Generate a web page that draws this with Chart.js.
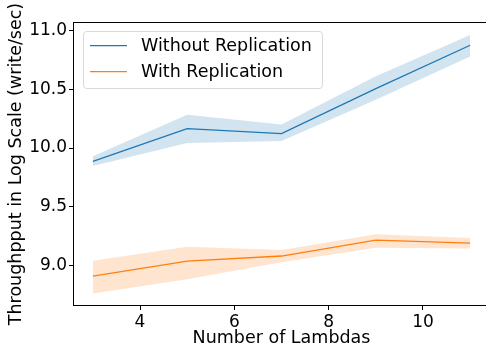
<!DOCTYPE html>
<html>
<head>
<meta charset="utf-8">
<script src="https://cdn.jsdelivr.net/npm/chart.js@4"></script>
<style>
  html, body { margin: 0; padding: 0; background: #fff; overflow: hidden; }
  #wrap { width: 490px; height: 352px; }
</style>
</head>
<body>
<div id="wrap"><canvas id="myChart" width="490" height="352"></canvas></div>
<script>
'use strict';

// values
let lambdas = [3, 5, 7, 9, 11];
let noRepMean = [9.887, 10.165, 10.122, 10.505, 10.873];
let noRepUpper = [9.93, 10.283, 10.2, 10.61, 10.96];
let noRepLower = [9.847, 10.042, 10.06, 10.41, 10.777];
let repMean = [8.912, 9.04, 9.083, 9.218, 9.193];
let repUpper = [9.042, 9.162, 9.134, 9.268, 9.235];
let repLower = [8.765, 8.885, 9.03, 9.153, 9.147];

let xTicks = [4, 6, 8, 10];
let yTicks = [9.0, 9.5, 10.0, 10.5, 11.0];

let seriesNames = ['Without Replication', 'With Replication'];
let blue = '#1f77b4';
let orange = '#ff7f0e';

let font = 'DejaVu Sans';

function toPoints(values) {
  return lambdas.map((x, i) => ({ x: x, y: values[i] }));
}

function band(values, color, fill) {
  return {
    data: toPoints(values),
    borderWidth: 0,
    borderColor: 'rgba(0,0,0,0)',
    backgroundColor: color,
    pointRadius: 0,
    fill: fill,
    tension: 0
  };
}

function line(label, values, color) {
  return {
    label: label,
    data: toPoints(values),
    borderColor: color,
    borderWidth: 1.3,
    pointRadius: 0,
    fill: false,
    tension: 0
  };
}

// frame round the plot area plus the boxed legend
let framePlugin = {
  id: 'frame',
  afterDraw(chart) {
    let ctx = chart.ctx;
    let a = chart.chartArea;
    ctx.save();
    ctx.strokeStyle = '#000';
    ctx.lineWidth = 1;
    ctx.strokeRect(Math.round(a.left) - 0.5, Math.round(a.top) - 0.5,
      Math.round(a.right - a.left) + 1, Math.round(a.bottom - a.top) + 1);

    // legend box
    let bx = 83.5, by = 31.5, bw = 239, bh = 57, r = 3;
    ctx.beginPath();
    ctx.moveTo(bx + r, by);
    ctx.arcTo(bx + bw, by, bx + bw, by + bh, r);
    ctx.arcTo(bx + bw, by + bh, bx, by + bh, r);
    ctx.arcTo(bx, by + bh, bx, by, r);
    ctx.arcTo(bx, by, bx + bw, by, r);
    ctx.closePath();
    ctx.fillStyle = 'rgba(255,255,255,0.8)';
    ctx.fill();
    ctx.strokeStyle = '#d9d9d9';
    ctx.stroke();

    let colors = [blue, orange];
    let rows = [45.7, 71.7];
    ctx.font = '17.5px "' + font + '"';
    ctx.textBaseline = 'middle';
    ctx.textAlign = 'left';
    for (let i = 0; i < seriesNames.length; i++) {
      ctx.strokeStyle = colors[i];
      ctx.lineWidth = 1.3;
      ctx.beginPath();
      ctx.moveTo(90, rows[i]);
      ctx.lineTo(127, rows[i]);
      ctx.stroke();
      ctx.fillStyle = '#000';
      ctx.fillText(seriesNames[i], 141, rows[i] + 1);
    }
    ctx.restore();
  }
};

let chartObject = {
  type: 'line',
  data: {
    datasets: [
      band(noRepUpper, 'rgba(31,119,180,0.2)', '+1'),
      band(noRepLower, 'rgba(31,119,180,0.2)', false),
      band(repUpper, 'rgba(255,127,14,0.2)', '+1'),
      band(repLower, 'rgba(255,127,14,0.2)', false),
      line(seriesNames[0], noRepMean, blue),
      line(seriesNames[1], repMean, orange)
    ]
  },
  options: {
    responsive: false,
    animation: false,
    layout: { padding: { top: 23, right: 1, left: 0, bottom: 0 } },
    plugins: {
      legend: { display: false },
      tooltip: { enabled: false }
    },
    scales: {
      x: {
        type: 'linear',
        min: 2.6,
        max: 11.4,
        afterFit(scale) { scale.height = 47; },
        afterBuildTicks(scale) { scale.ticks = xTicks.map(v => ({ value: v })); },
        border: { display: false },
        grid: { drawOnChartArea: false, drawTicks: true, tickLength: 5, color: '#000', tickWidth: 1 },
        ticks: { color: '#000', padding: 2, maxRotation: 0, font: { family: font, size: 17 } },
        title: {
          display: true,
          text: 'Number of Lambdas',
          color: '#000',
          padding: { top: 0, bottom: 3 },
          font: { family: font, size: 17.5 }
        }
      },
      y: {
        type: 'linear',
        min: 8.667,
        max: 11.062,
        afterFit(scale) { scale.width = 74; },
        afterBuildTicks(scale) { scale.ticks = yTicks.map(v => ({ value: v })); },
        border: { display: false },
        grid: { drawOnChartArea: false, drawTicks: true, tickLength: 5, color: '#000', tickWidth: 1 },
        ticks: {
          color: '#000',
          padding: 2,
          font: { family: font, size: 17 },
          callback: v => v.toFixed(1)
        },
        title: {
          display: true,
          text: 'Throughpput in Log Scale (write/sec)',
          color: '#000',
          padding: { top: 6, bottom: 0 },
          font: { family: font, size: 17.5 }
        }
      }
    }
  },
  plugins: [framePlugin]
};

let ctx = document.getElementById('myChart').getContext('2d');
let myChart = new Chart(ctx, chartObject);
</script>
</body>
</html>
